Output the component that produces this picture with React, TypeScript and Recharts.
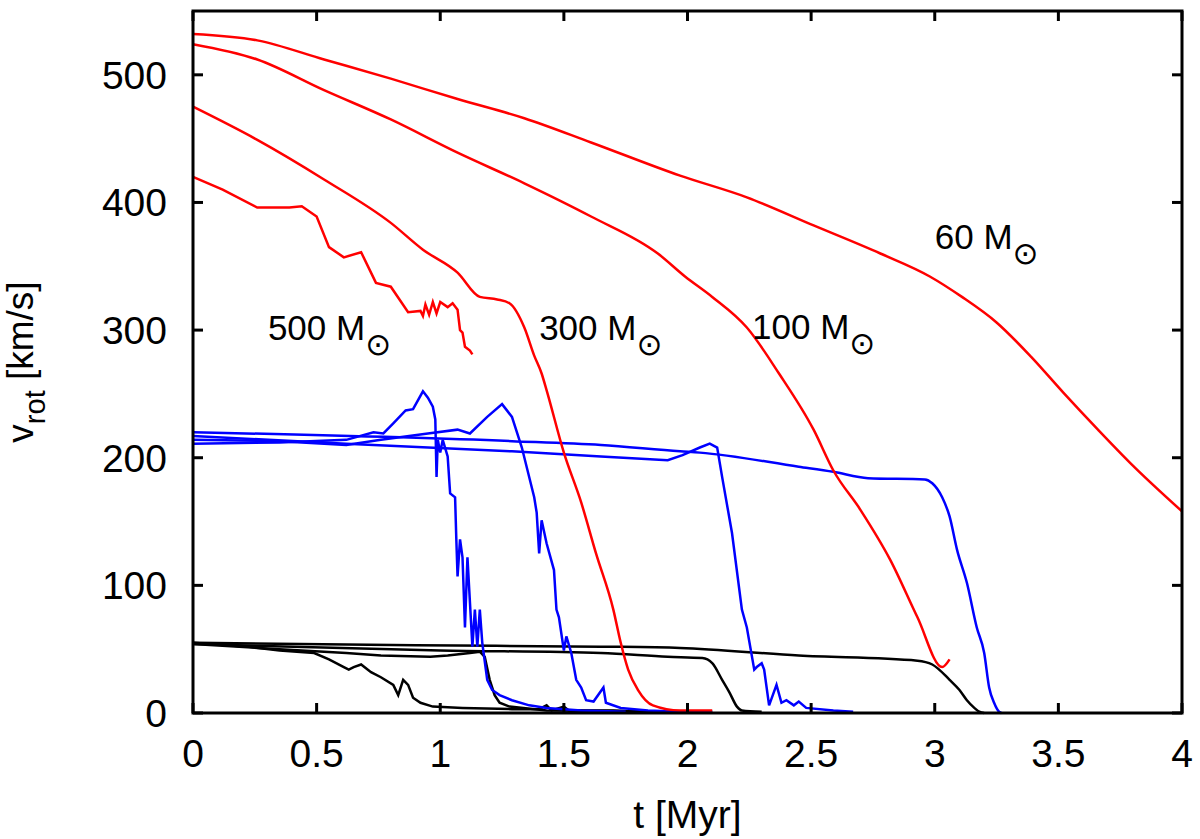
import { Label, Line, LineChart, ReferenceDot, XAxis, YAxis } from "recharts";

// [t in Myr, v_rot in km/s]
const red60 = [
  [0, 532], [0.26, 527], [0.53, 512], [0.8, 497], [1.07, 481], [1.34, 466], [1.61, 447],
  [1.97, 421], [2.24, 404], [2.51, 382], [2.78, 360], [2.98, 342], [3.11, 326], [3.25, 306],
  [3.39, 279], [3.52, 251], [3.66, 222], [3.79, 196], [4.0, 158],
];
const red100 = [
  [0, 524], [0.26, 512], [0.53, 488], [0.8, 465], [1.07, 439], [1.34, 415], [1.61, 389],
  [1.88, 360], [1.99, 342], [2.1, 326], [2.24, 302], [2.37, 266], [2.51, 222], [2.59, 190],
  [2.7, 159], [2.82, 120], [2.93, 75], [3.03, 36], [3.06, 42],
];
const red300 = [
  [0, 475], [0.26, 449], [0.53, 418], [0.8, 384], [0.93, 363], [1.07, 345], [1.16, 326],
  [1.23, 324], [1.28, 321], [1.34, 302], [1.38, 280], [1.41, 266], [1.43, 253], [1.5, 204],
  [1.57, 165], [1.63, 125], [1.7, 81], [1.73, 55], [1.76, 34], [1.8, 18], [1.86, 6],
  [1.97, 2], [2.1, 2],
];
const red500 = [
  [0, 420], [0.12, 410], [0.26, 396], [0.39, 396], [0.44, 397], [0.5, 389], [0.55, 365],
  [0.61, 357], [0.68, 361], [0.74, 337], [0.8, 334], [0.87, 314], [0.92, 315], [0.93, 311],
  [0.94, 320], [0.955, 312], [0.97, 322], [0.985, 313], [1.0, 322], [1.03, 318], [1.05, 321],
  [1.07, 316], [1.08, 300], [1.09, 298], [1.1, 287], [1.12, 284], [1.13, 281],
];

const blue60 = [
  [0, 220], [1.29, 213], [1.65, 210], [1.97, 205], [2.05, 204], [2.45, 193], [2.59, 189],
  [2.73, 184], [2.96, 183], [2.99, 180], [3.03, 169], [3.06, 154], [3.09, 128], [3.13, 102],
  [3.17, 67], [3.2, 47], [3.22, 20], [3.24, 8], [3.26, 1], [3.27, 0],
];
const blue100 = [
  [0, 217], [0.62, 211], [1.29, 205], [1.65, 201], [1.92, 198], [1.98, 202], [2.05, 208],
  [2.09, 211], [2.12, 208], [2.14, 185], [2.18, 141], [2.22, 81], [2.24, 67], [2.27, 34],
  [2.28, 36], [2.3, 39], [2.31, 34], [2.33, 6], [2.36, 22], [2.38, 8], [2.4, 10], [2.43, 6],
  [2.45, 9], [2.48, 4], [2.59, 2], [2.67, 1],
];
const blue300 = [
  [0, 214], [0.35, 213], [0.62, 210], [0.76, 214], [0.95, 219], [1.07, 222], [1.12, 219],
  [1.19, 232], [1.25, 242], [1.29, 232], [1.33, 208], [1.38, 169], [1.39, 157], [1.4, 125],
  [1.41, 151], [1.43, 133], [1.46, 112], [1.47, 81], [1.48, 75], [1.5, 49], [1.51, 60],
  [1.53, 47], [1.55, 26], [1.57, 20], [1.59, 10], [1.62, 9], [1.66, 20], [1.67, 8],
  [1.73, 4], [1.84, 2], [1.97, 1], [2.1, 1],
];
const blue500 = [
  [0, 211], [0.35, 212], [0.62, 214], [0.73, 220], [0.77, 219], [0.81, 227], [0.86, 237],
  [0.89, 238], [0.93, 252], [0.95, 247], [0.97, 240], [0.98, 230], [0.985, 185], [0.99, 214],
  [1.0, 204], [1.01, 214], [1.03, 201], [1.04, 172], [1.06, 169], [1.065, 136], [1.07, 107],
  [1.08, 136], [1.09, 122], [1.1, 67], [1.11, 122], [1.13, 52], [1.14, 81], [1.15, 52],
  [1.16, 81], [1.17, 55], [1.19, 26], [1.21, 18], [1.24, 14], [1.29, 10], [1.36, 6],
  [1.43, 4], [1.57, 2], [1.75, 1],
];

const black60 = [
  [0, 55], [0.9, 53], [1.65, 52], [1.97, 51], [2.45, 45], [2.93, 41], [2.99, 38], [3.06, 26],
  [3.1, 18], [3.13, 10], [3.16, 4], [3.18, 1], [3.2, 0],
];
const black100 = [
  [0, 54], [1.0, 49], [1.65, 47], [1.92, 44], [2.06, 43], [2.1, 39], [2.14, 26], [2.17, 16],
  [2.2, 5], [2.22, 2], [2.3, 1],
];
const black300 = [
  [0, 54], [0.35, 50], [0.62, 47], [0.76, 45], [0.96, 44], [1.03, 45], [1.12, 47], [1.16, 48],
  [1.18, 44], [1.2, 26], [1.22, 14], [1.24, 8], [1.28, 5], [1.43, 2], [2.1, 1],
];
const black500 = [
  [0, 55], [0.22, 52], [0.35, 49], [0.49, 47], [0.55, 42], [0.61, 36], [0.63, 34], [0.65, 36],
  [0.68, 38], [0.72, 32], [0.76, 28], [0.81, 22], [0.83, 14], [0.85, 26], [0.87, 22],
  [0.89, 12], [0.92, 8], [0.97, 5], [1.09, 4], [1.29, 3], [1.4, 3], [1.43, 6], [1.45, 2],
  [1.5, 5], [1.52, 2], [1.7, 2], [1.8, 1],
];

const xTicks = [0, 0.5, 1, 1.5, 2, 2.5, 3, 3.5, 4];
const yTicks = [0, 100, 200, 300, 400, 500];
const X_MAX = 4;
const Y_MAX = 550;

const massLabels = [
  { text: "500 M", t: 0.303, v: 292 },
  { text: "300 M", t: 1.4, v: 292 },
  { text: "100 M", t: 2.261, v: 293 },
  { text: "60 M", t: 3.0, v: 363.6 },
];

const FONT = "'Liberation Sans', Arial, Helvetica, sans-serif";
const RED = "#ff0000";
const BLUE = "#0000ff";
const BLACK = "#000000";

// chart box
const W = 1200;
const H = 839;
const MARGIN = { top: 11, right: 18, bottom: 0, left: 0 };
const Y_AXIS_W = 193;
const X_AXIS_H = 126;
const PLOT = {
  left: MARGIN.left + Y_AXIS_W,
  top: MARGIN.top,
  width: W - MARGIN.left - Y_AXIS_W - MARGIN.right,
  height: H - MARGIN.top - MARGIN.bottom - X_AXIS_H,
};
const TICK_PX = 10;
const px = (t: number) => PLOT.left + (t / X_MAX) * PLOT.width;
const py = (v: number) => PLOT.top + PLOT.height - (v / Y_MAX) * PLOT.height;

const series = [
  { key: "black500", pts: black500, color: BLACK, type: "linear" },
  { key: "black300", pts: black300, color: BLACK, type: "linear" },
  { key: "black100", pts: black100, color: BLACK, type: "monotone" },
  { key: "black60", pts: black60, color: BLACK, type: "monotone" },
  { key: "blue500", pts: blue500, color: BLUE, type: "linear" },
  { key: "blue300", pts: blue300, color: BLUE, type: "linear" },
  { key: "blue100", pts: blue100, color: BLUE, type: "linear" },
  { key: "blue60", pts: blue60, color: BLUE, type: "monotone" },
  { key: "red500", pts: red500, color: RED, type: "linear" },
  { key: "red300", pts: red300, color: RED, type: "monotone" },
  { key: "red100", pts: red100, color: RED, type: "monotone" },
  { key: "red60", pts: red60, color: RED, type: "monotone" },
];

const toRows = (pts: number[][]) => pts.map(([t, v]) => ({ t, v }));

const BottomTick = (props: any) => {
  const { x, y, payload } = props;
  return (
    <text x={x} y={y + 54} textAnchor="middle" fontSize={39} fontFamily={FONT} fill="#000">
      {payload.value}
    </text>
  );
};

const LeftTick = (props: any) => {
  const { x, y, payload } = props;
  return (
    <text x={x - 26} y={y + 14} textAnchor="end" fontSize={39} fontFamily={FONT} fill="#000">
      {payload.value}
    </text>
  );
};

// gnuplot style box with inward ticks on all four sides
function Frame() {
  const b = PLOT.top + PLOT.height;
  const r = PLOT.left + PLOT.width;
  return (
    <svg
      width={W}
      height={H}
      style={{ position: "absolute", left: 0, top: 0, pointerEvents: "none" }}
    >
      <rect
        x={PLOT.left}
        y={PLOT.top}
        width={PLOT.width}
        height={PLOT.height}
        fill="none"
        stroke="#000"
        strokeWidth={3}
      />
      {xTicks.map((t) => (
        <g key={`x${t}`}>
          <line x1={px(t)} y1={b} x2={px(t)} y2={b - TICK_PX} stroke="#000" strokeWidth={3} />
          <line
            x1={px(t)}
            y1={PLOT.top}
            x2={px(t)}
            y2={PLOT.top + TICK_PX}
            stroke="#000"
            strokeWidth={3}
          />
        </g>
      ))}
      {yTicks.map((v) => (
        <g key={`y${v}`}>
          <line
            x1={PLOT.left}
            y1={py(v)}
            x2={PLOT.left + TICK_PX}
            y2={py(v)}
            stroke="#000"
            strokeWidth={3}
          />
          <line x1={r} y1={py(v)} x2={r - TICK_PX} y2={py(v)} stroke="#000" strokeWidth={3} />
        </g>
      ))}
    </svg>
  );
}

export default function App() {
  return (
    <div style={{ position: "absolute", left: 0, top: 0, width: W, height: H, background: "#fff" }}>
      <LineChart width={W} height={H} margin={MARGIN}>
        <XAxis
          xAxisId="b"
          type="number"
          dataKey="t"
          domain={[0, X_MAX]}
          ticks={xTicks}
          orientation="bottom"
          height={X_AXIS_H}
          tickSize={0}
          tickMargin={0}
          tickLine={false}
          axisLine={false}
          tick={BottomTick}
          interval={0}
        >
          <Label
            content={({ viewBox }: any) => (
              <text
                x={viewBox.x + viewBox.width / 2}
                y={viewBox.y + 115}
                textAnchor="middle"
                fontSize={39}
                fontFamily={FONT}
                fill="#000"
              >
                t [Myr]
              </text>
            )}
          />
        </XAxis>
        <YAxis
          yAxisId="l"
          type="number"
          domain={[0, Y_MAX]}
          ticks={yTicks}
          orientation="left"
          width={Y_AXIS_W}
          tickSize={0}
          tickMargin={0}
          tickLine={false}
          axisLine={false}
          tick={LeftTick}
          interval={0}
        >
          <Label
            content={({ viewBox }: any) => (
              <text
                transform={`translate(33 ${viewBox.y + viewBox.height / 2}) rotate(-90)`}
                textAnchor="middle"
                fontSize={37}
                fontFamily={FONT}
                fill="#000"
              >
                v
                <tspan fontSize={29} dy={12}>
                  rot
                </tspan>
                <tspan dy={-12}> [km/s]</tspan>
              </text>
            )}
          />
        </YAxis>

        {series.map((s) => (
          <Line
            key={s.key}
            xAxisId="b"
            yAxisId="l"
            data={toRows(s.pts)}
            dataKey="v"
            type={s.type as any}
            stroke={s.color}
            strokeWidth={2.5}
            dot={false}
            activeDot={false}
            isAnimationActive={false}
          />
        ))}

        {massLabels.map((m) => (
          <ReferenceDot
            key={m.text}
            xAxisId="b"
            yAxisId="l"
            x={m.t}
            y={m.v}
            r={0}
            shape={(p: any) => (
              <text x={p.cx} y={p.cy} fontSize={35} fontFamily={FONT} fill="#000">
                {m.text}
                <tspan fontFamily="'DejaVu Sans'" fontSize={31} dy={15}>
                  ⊙
                </tspan>
              </text>
            )}
          />
        ))}
      </LineChart>
      <Frame />
    </div>
  );
}
